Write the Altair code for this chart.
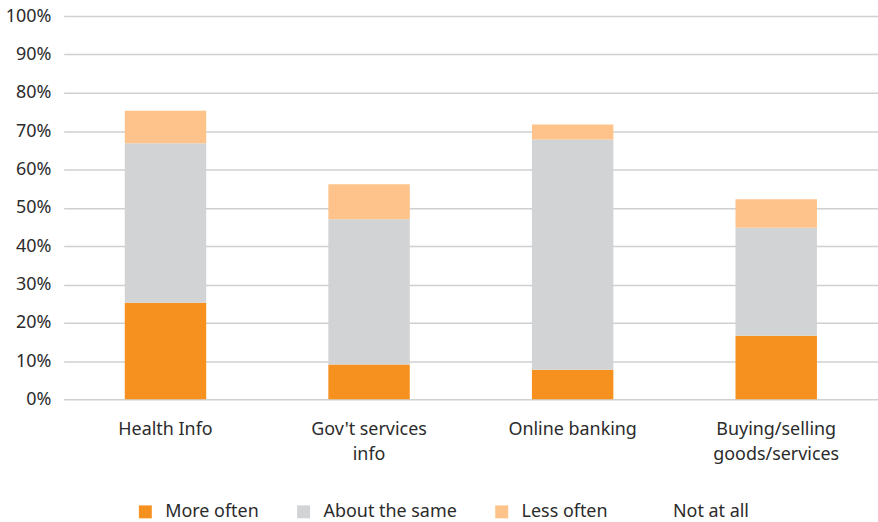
import altair as alt
import pandas as pd

categories = ["Health Info", "Gov't services\ninfo", "Online banking", "Buying/selling\ngoods/services"]
series = ["More often", "About the same", "Less often", "Not at all"]
more_often = [25.2, 9.1, 7.7, 16.6]
about_same = [41.6, 37.9, 60.1, 28.2]
less_often = [8.5, 9.1, 3.9, 7.4]
not_at_all = [24.7, 43.9, 28.3, 47.8]
colors = ["#F6901E", "#D1D3D4", "#FDC38A", "transparent"]

rows = []
for i, c in enumerate(categories):
    for j, (s, vals) in enumerate(zip(series, [more_often, about_same, less_often, not_at_all])):
        rows.append({"category": c, "series": s, "value": vals[i] / 100.0, "order": j})
df = pd.DataFrame(rows)

FONT = "Noto Sans"
TXT = "#2b2b2b"
chart = alt.Chart(df).mark_bar().encode(
    x=alt.X("category:N", sort=categories, title=None,
            scale=alt.Scale(paddingInner=0.6, paddingOuter=0.3),
            axis=alt.Axis(labelAngle=0, labelExpr="split(datum.label, '\\n')",
                          domain=False, ticks=False, labelPadding=21,
                          labelLineHeight=25, labelFontSize=18, labelFont=FONT,
                          labelColor=TXT)),
    y=alt.Y("value:Q", stack="zero", title=None,
            scale=alt.Scale(domain=[0, 1], nice=False),
            axis=alt.Axis(format=".0%", values=[i / 10 for i in range(11)],
                          domain=False, ticks=False, labelPadding=13,
                          labelFontSize=18, labelFont=FONT, labelColor=TXT,
                          gridColor="#D0D0D0", gridWidth=1.5)),
    color=alt.Color("series:N", sort=series,
                    scale=alt.Scale(domain=series, range=colors),
                    legend=alt.Legend(title=None, orient="none", direction="horizontal",
                                      legendX=73, legendY=489,
                                      symbolType="square", symbolSize=169,
                                      symbolStrokeWidth=0,
                                      labelFontSize=18, labelFont=FONT,
                                      labelColor=TXT, labelOffset=11,
                                      columnPadding=36)),
    order=alt.Order("order:Q", sort="ascending"),
).properties(
    width=818, height=385,
    padding={"left": 64, "top": 15, "right": 0, "bottom": 122},
    autosize=alt.AutoSizeParams(type="none"),
).configure_view(stroke=None)

chart.save("out.html", embed_options={"renderer": "svg", "actions": False})
